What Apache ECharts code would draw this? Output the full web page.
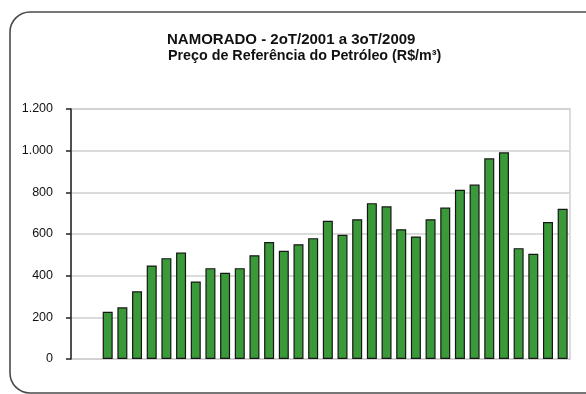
<!DOCTYPE html>
<html>
<head>
<meta charset="utf-8">
<script src="https://cdn.jsdelivr.net/npm/echarts@6/dist/echarts.min.js"></script>
<style>
  html, body { margin: 0; padding: 0; background: #fff; }
  #chart { width: 586px; height: 394px; }
</style>
</head>
<body>
<div id="chart"></div>
<script>
// Quarters from 2T/2001 to 3T/2009
const quarters = [
  '2T/2001','3T/2001','4T/2001',
  '1T/2002','2T/2002','3T/2002','4T/2002',
  '1T/2003','2T/2003','3T/2003','4T/2003',
  '1T/2004','2T/2004','3T/2004','4T/2004',
  '1T/2005','2T/2005','3T/2005','4T/2005',
  '1T/2006','2T/2006','3T/2006','4T/2006',
  '1T/2007','2T/2007','3T/2007','4T/2007',
  '1T/2008','2T/2008','3T/2008','4T/2008',
  '1T/2009','2T/2009','3T/2009'
];

// Reference price of oil, R$/m³ (no value for the first two quarters)
const prices = [
  null, null,
  227, 248, 325, 449, 484, 511, 372, 436, 414, 436,
  498, 561, 519, 551, 580, 663, 596, 671, 748, 733,
  623, 588, 671, 727, 812, 837, 963, 992, 532, 505,
  657, 721
];

const yTicks = { min: 0, max: 1200, step: 200 };

const titleLine1 = 'NAMORADO - 2oT/2001 a 3oT/2009';
const titleLine2 = 'Preço de Referência do Petróleo (R$/m³)';

const FONT = 'Liberation Sans, Arial, sans-serif';

const chart = echarts.init(document.getElementById('chart'), null, { renderer: 'canvas' });

const fmtThousands = v => String(v).replace(/\B(?=(\d{3})+(?!\d))/g, '.');

chart.setOption({
  animation: false,
  backgroundColor: '#fff',
  textStyle: { fontFamily: FONT },
  title: [
    {
      text: titleLine1,
      left: 167, top: 32, padding: 0,
      textStyle: { fontSize: 15, fontWeight: 'bold', color: '#111', fontFamily: FONT }
    },
    {
      text: titleLine2,
      left: 168, top: 49, padding: 0,
      textStyle: { fontSize: 14.3, fontWeight: 'bold', color: '#111', fontFamily: FONT }
    }
  ],
  graphic: [
    {
      type: 'rect',
      shape: { x: 10, y: 12, width: 600, height: 381, r: 20 },
      style: { fill: 'none', stroke: '#4a4a4a', lineWidth: 1.6 },
      z: 0, silent: true
    }
  ],
  grid: {
    left: 71, right: 16, top: 109, bottom: 35,
    show: true, borderColor: '#cfcfcf', borderWidth: 1.5, backgroundColor: 'transparent'
  },
  xAxis: {
    type: 'category',
    data: quarters,
    axisLine: { show: false },
    axisTick: { show: false },
    axisLabel: { show: false },
    splitLine: { show: false }
  },
  yAxis: {
    type: 'value',
    min: yTicks.min, max: yTicks.max, interval: yTicks.step,
    axisLine: { show: true, lineStyle: { color: '#222', width: 1.5 } },
    axisTick: { show: true, length: 5, inside: false, lineStyle: { color: '#222', width: 1.5 } },
    axisLabel: {
      margin: 18, fontSize: 12.5, color: '#111',
      fontFamily: FONT,
      formatter: v => fmtThousands(v)
    },
    splitLine: { show: true, lineStyle: { color: '#cfcfcf', width: 1.5 } }
  },
  series: [
    {
      type: 'bar',
      data: prices,
      barWidth: 10,
      itemStyle: { color: '#3a9a3a', borderColor: '#161616', borderWidth: 1.2 },
      z: 3
    }
  ]
});
</script>
</body>
</html>
